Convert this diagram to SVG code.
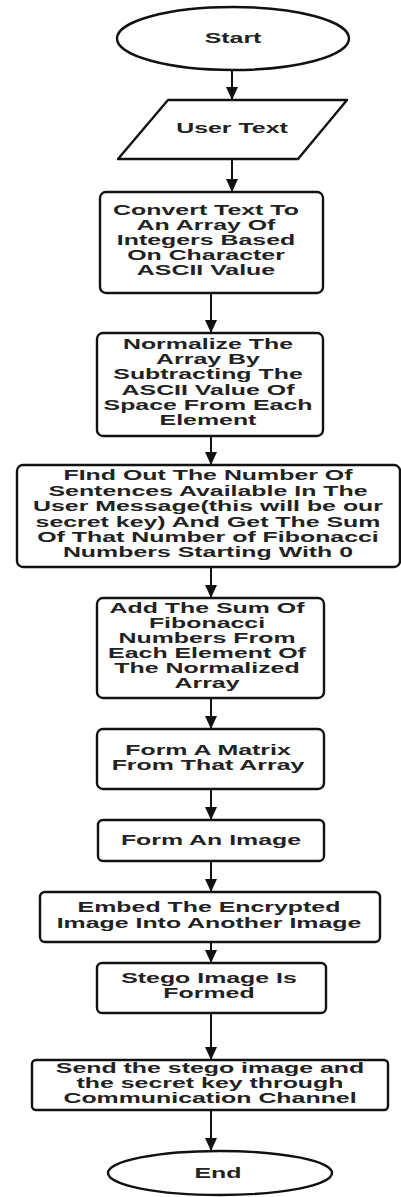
<svg xmlns="http://www.w3.org/2000/svg" width="401" height="1197" viewBox="0 0 401 1197">
<defs>
<marker id="ah" markerUnits="userSpaceOnUse" markerWidth="14" markerHeight="12" viewBox="0 0 14 12" refX="13" refY="6" orient="auto">
<path d="M0,0 L13,6 L0,12 Z" fill="#111"/>
</marker>
<style>
.shape{fill:#fff;stroke:#111;stroke-width:2.4;stroke-linejoin:round}
.conn{stroke:#111;stroke-width:2;fill:none;marker-end:url(#ah)}
.t{font-family:"Liberation Sans",Arial,sans-serif;font-size:15px;font-weight:bold;fill:#222;text-anchor:middle}
</style>
</defs>
<rect width="401" height="1197" fill="#fff"/>
<g id="connectors">
<line class="conn" x1="232" y1="70" x2="232" y2="100"/>
<line class="conn" x1="232" y1="159" x2="232" y2="192"/>
<line class="conn" x1="211" y1="293" x2="211" y2="333"/>
<line class="conn" x1="211" y1="436" x2="211" y2="465"/>
<line class="conn" x1="211" y1="567" x2="211" y2="598"/>
<line class="conn" x1="211" y1="698" x2="211" y2="729"/>
<line class="conn" x1="211" y1="789" x2="211" y2="820"/>
<line class="conn" x1="211" y1="861" x2="211" y2="892"/>
<line class="conn" x1="211" y1="942" x2="211" y2="963"/>
<line class="conn" x1="211" y1="1013" x2="211" y2="1060"/>
<line class="conn" x1="211" y1="1110" x2="211" y2="1151"/>
</g>
<g id="start">
<ellipse class="shape" cx="233" cy="38.5" rx="116" ry="31.5"/>
<text class="t" transform="translate(233 0) scale(1.66 1)"><tspan x="0" y="43">Start</tspan></text>
</g>
<g id="user-text">
<path class="shape" d="M168,100 L347,100 L298,159 L118,159 Z"/>
<text class="t" transform="translate(232 0) scale(1.66 1)"><tspan x="0" y="133">User Text</tspan></text>
</g>
<g id="convert">
<rect class="shape" x="100" y="192" width="223" height="101" rx="6"/>
<text class="t" transform="translate(206 0) scale(1.66 1)"><tspan x="0" y="215">Convert Text To</tspan><tspan x="0" y="230">An Array Of</tspan><tspan x="0" y="245">Integers Based</tspan><tspan x="0" y="260">On Character</tspan><tspan x="0" y="275">ASCII Value</tspan></text>
</g>
<g id="normalize">
<rect class="shape" x="97" y="333" width="226" height="103" rx="6"/>
<text class="t" transform="translate(208 0) scale(1.66 1)"><tspan x="0" y="349">Normalize The</tspan><tspan x="0" y="364">Array By</tspan><tspan x="0" y="379.5">Subtracting The</tspan><tspan x="0" y="395">ASCII Value Of</tspan><tspan x="0" y="410">Space From Each</tspan><tspan x="0" y="425">Element</tspan></text>
</g>
<g id="find-out">
<rect class="shape" x="17" y="465" width="383" height="102" rx="6"/>
<text class="t" transform="translate(208 0) scale(1.66 1)"><tspan x="0" y="480">FInd Out The Number Of</tspan><tspan x="0" y="496">Sentences Available In The</tspan><tspan x="0" y="511">User Message(this will be our</tspan><tspan x="0" y="527">secret key) And Get The Sum</tspan><tspan x="0" y="542">Of That Number of Fibonacci</tspan><tspan x="0" y="557">Numbers Starting With 0</tspan></text>
</g>
<g id="add-sum">
<rect class="shape" x="97" y="598" width="227" height="100" rx="6"/>
<text class="t" transform="translate(207 0) scale(1.66 1)"><tspan x="0" y="613">Add The Sum Of</tspan><tspan x="0" y="628">Fibonacci</tspan><tspan x="0" y="643">Numbers From</tspan><tspan x="0" y="658">Each Element Of</tspan><tspan x="0" y="673">The Normalized</tspan><tspan x="0" y="688">Array</tspan></text>
</g>
<g id="form-matrix">
<rect class="shape" x="97" y="729" width="227" height="60" rx="6"/>
<text class="t" transform="translate(208 0) scale(1.66 1)"><tspan x="0" y="755">Form A Matrix</tspan><tspan x="0" y="770">From That Array</tspan></text>
</g>
<g id="form-image">
<rect class="shape" x="98" y="820" width="226" height="41" rx="5"/>
<text class="t" transform="translate(211 0) scale(1.66 1)"><tspan x="0" y="845">Form An Image</tspan></text>
</g>
<g id="embed">
<rect class="shape" x="40" y="892" width="340" height="50" rx="5"/>
<text class="t" transform="translate(209 0) scale(1.66 1)"><tspan x="0" y="912">Embed The Encrypted</tspan><tspan x="0" y="928">Image Into Another Image</tspan></text>
</g>
<g id="stego">
<rect class="shape" x="97" y="963" width="229" height="50" rx="5"/>
<text class="t" transform="translate(209 0) scale(1.66 1)"><tspan x="0" y="983">Stego Image Is</tspan><tspan x="0" y="998">Formed</tspan></text>
</g>
<g id="send">
<rect class="shape" x="32" y="1060" width="356" height="50" rx="4"/>
<text class="t" transform="translate(210 0) scale(1.66 1)"><tspan x="0" y="1073">Send the stego image and</tspan><tspan x="0" y="1088">the secret key through</tspan><tspan x="0" y="1103">Communication Channel</tspan></text>
</g>
<g id="end">
<ellipse class="shape" cx="220" cy="1173" rx="112" ry="22"/>
<text class="t" transform="translate(218 0) scale(1.66 1)"><tspan x="0" y="1178">End</tspan></text>
</g>
</svg>
